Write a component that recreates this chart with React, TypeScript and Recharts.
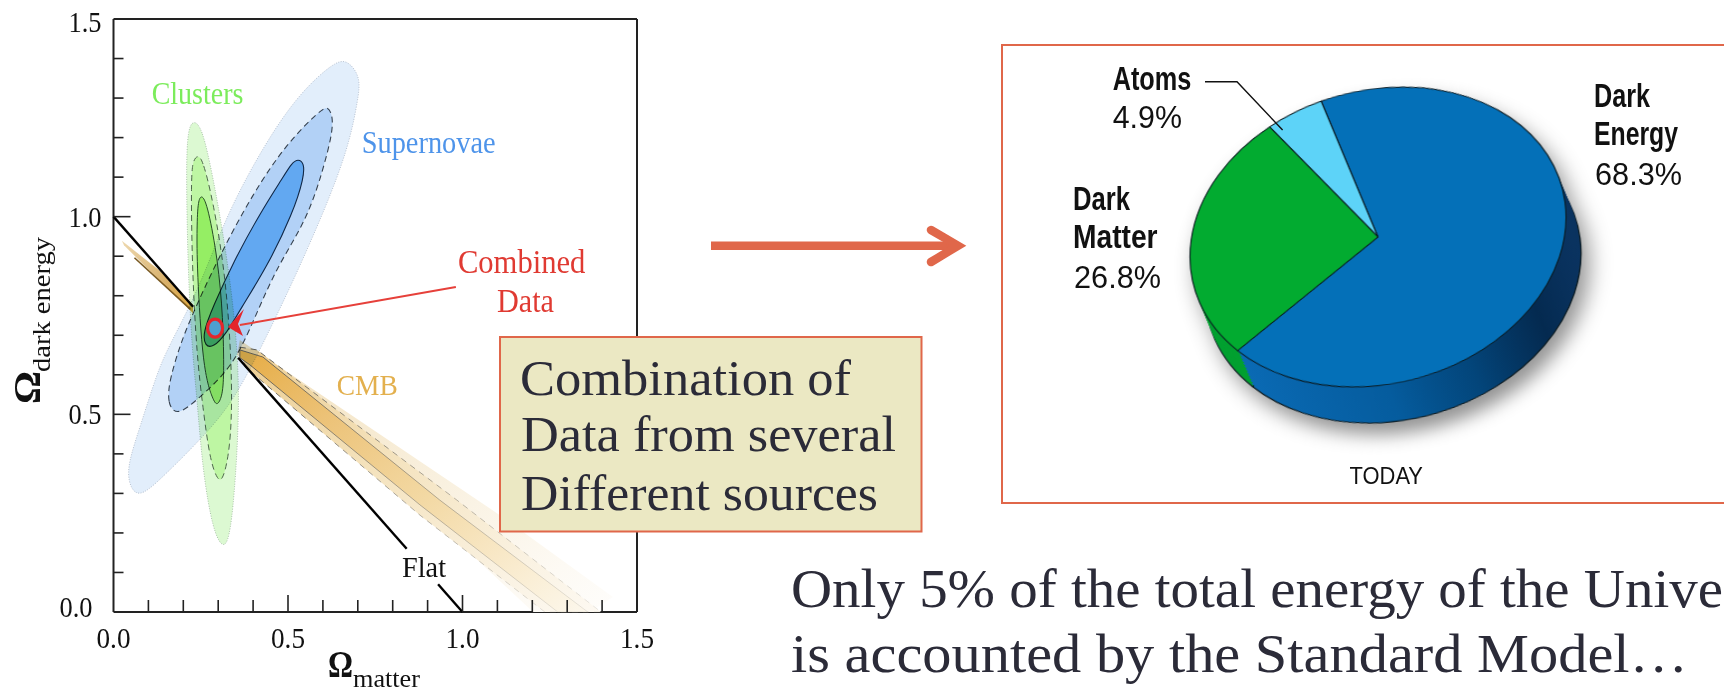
import { ScatterChart, Scatter, XAxis, YAxis, PieChart, Pie, Cell } from 'recharts';

// left plot, contour outlines as [omega matter, omega dark energy]
const snOuter = [[0.07, 0.286], [0.042, 0.326], [0.042, 0.377], [0.076, 0.468], [0.125, 0.605], [0.156, 0.668], [0.248, 0.822], [0.325, 1.009], [0.44, 1.194], [0.534, 1.313], [0.629, 1.389], [0.669, 1.399], [0.709, 1.353], [0.7, 1.295], [0.678, 1.194], [0.629, 1.068], [0.534, 0.873], [0.434, 0.688], [0.342, 0.529], [0.248, 0.435], [0.133, 0.334]];
const snMid = [[0.182, 0.493], [0.153, 0.529], [0.162, 0.592], [0.191, 0.675], [0.219, 0.739], [0.297, 0.89], [0.4, 1.06], [0.497, 1.186], [0.592, 1.269], [0.615, 1.28], [0.629, 1.252], [0.626, 1.207], [0.6, 1.117], [0.554, 0.992], [0.468, 0.873], [0.405, 0.744], [0.342, 0.62], [0.248, 0.544]];
const snInner = [[0.529, 1.146], [0.546, 1.136], [0.546, 1.1], [0.514, 1.009], [0.44, 0.873], [0.362, 0.764], [0.325, 0.706], [0.285, 0.668], [0.262, 0.673], [0.256, 0.706], [0.285, 0.772], [0.342, 0.883], [0.42, 1.009], [0.486, 1.1], [0.511, 1.136]];
const clOuter = [[0.228, 1.245], [0.254, 1.227], [0.285, 1.1], [0.314, 0.958], [0.342, 0.789], [0.36, 0.605], [0.357, 0.435], [0.342, 0.25], [0.328, 0.175], [0.311, 0.164], [0.285, 0.207], [0.256, 0.352], [0.239, 0.544], [0.225, 0.663], [0.213, 0.873], [0.208, 1.126], [0.213, 1.219]];
const clMid = [[0.242, 1.156], [0.256, 1.143], [0.285, 1.042], [0.325, 0.832], [0.342, 0.562], [0.334, 0.41], [0.314, 0.334], [0.299, 0.331], [0.276, 0.385], [0.256, 0.519], [0.239, 0.645], [0.225, 0.873], [0.222, 1.1], [0.228, 1.143]];
const clInner = [[0.254, 1.057], [0.271, 1.024], [0.299, 0.89], [0.314, 0.746], [0.317, 0.594], [0.311, 0.544], [0.297, 0.521], [0.285, 0.536], [0.256, 0.612], [0.239, 0.873], [0.239, 0.974], [0.242, 1.042]];
const cmbOuter = [[0.362, 0.688], [1.107, 0.245], [1.431, 0.038], [1.365, 0], [1.202, 0], [0.878, 0.268], [0.354, 0.65]];
const cmbMid = [[0.362, 0.67], [0.411, 0.663], [0.984, 0.283], [1.397, 0], [1.236, 0], [0.878, 0.245], [0.377, 0.62]];
const cmbInner = [[0.362, 0.663], [0.428, 0.645], [0.935, 0.283], [1.359, 0], [1.273, 0], [0.878, 0.271], [0.391, 0.625], [0.362, 0.643]];
const cmbSliver = [[0.024, 0.939], [0.133, 0.863], [0.228, 0.777], [0.228, 0.756], [0.133, 0.837], [0.03, 0.928]];
const cmbSliverCore = [[0.06, 0.896], [0.22, 0.766]];
const flatUpperA = [[0, 1], [0.228, 0.772]];
const flatUpperB = [[0.357, 0.643], [0.84, 0.16]];
const flatLower = [[0.93, 0.07], [1, 0]];
const combined = [[0.291, 0.718]];
const arrowLine = [[0.981, 0.822], [0.362, 0.726]];

const axisTicks = [0, 0.1, 0.2, 0.3, 0.4, 0.5, 0.6, 0.7, 0.8, 0.9, 1, 1.1, 1.2, 1.3, 1.4, 1.5];
const majorTicks = [0, 0.5, 1, 1.5];

// right plot
const pieNames = ['Dark Energy', 'Atoms', 'Dark Matter'];
const pieValues = [68.3, 4.9, 26.8];
const pieColors = ['#0470b8', '#5dd3f8', '#02ab30'];
const pieSideColors = ['url(#pieSide)', '#5dd3f8', '#02a030'];
const pieData = pieNames.map((name, i) => ({ name, value: pieValues[i] }));
const sideLayers = [1, 0.92, 0.84, 0.76, 0.68, 0.6, 0.52, 0.44, 0.36, 0.28, 0.2, 0.12, 0.04];

const SERIF = '"Liberation Serif", serif';
const SANS = '"Liberation Sans", sans-serif';
const RED = '#e0674a';

const pts = (list: number[][]) => list.map(([x, y]) => ({ x, y }));
const noDot = () => <g />;

function blob(key: string, list: number[][], line: any, joint = 'basisClosed') {
  return (
    <Scatter
      key={key}
      data={pts(list)}
      line={line}
      lineJointType={joint as any}
      shape={noDot}
      isAnimationActive={false}
    />
  );
}

const multiply = { mixBlendMode: 'multiply' as const };

function BottomTick({ x, y, payload }: any) {
  const major = majorTicks.includes(payload.value);
  const edge = payload.value === 0 || payload.value === 1.5;
  return (
    <g>
      {!edge && <line x1={x} x2={x} y1={y} y2={y - (major ? 17 : 12)} stroke="#222" strokeWidth={1.6} />}
      {major && (
        <text x={x - 17} y={y + 36} fontFamily={SERIF} fontSize={29} fill="#111" textLength={34} lengthAdjust="spacingAndGlyphs">
          {payload.value.toFixed(1)}
        </text>
      )}
    </g>
  );
}

function LeftTick({ x, y, payload }: any) {
  const major = majorTicks.includes(payload.value);
  const edge = payload.value === 0 || payload.value === 1.5;
  const low = payload.value === 0;
  return (
    <g>
      {!edge && <line x1={x} x2={x + (major ? 17 : 10)} y1={y} y2={y} stroke="#222" strokeWidth={1.6} />}
      {major && (
        <text x={x - (low ? 54 : 45)} y={y + (low ? 5 : 10) + (payload.value === 1.5 ? 3 : 0)} fontFamily={SERIF} fontSize={29} fill="#111" textLength={33} lengthAdjust="spacingAndGlyphs">
          {payload.value.toFixed(1)}
        </text>
      )}
    </g>
  );
}

function TopTick({ x, y, payload }: any) {
  if (payload.value === 0 || payload.value === 1.5) return <g />;
  const major = majorTicks.includes(payload.value);
  return <line x1={x} x2={x} y1={y} y2={y + (major ? 17 : 12)} stroke="#222" strokeWidth={1.6} />;
}

function RightTick({ x, y, payload }: any) {
  if (payload.value === 0 || payload.value === 1.5) return <g />;
  const major = majorTicks.includes(payload.value);
  return <line x1={x} x2={x - (major ? 17 : 10)} y1={y} y2={y} stroke="#222" strokeWidth={1.6} />;
}

function ConstraintPlot() {
  const axisProps = {
    type: 'number' as const,
    domain: [0, 1.5],
    ticks: axisTicks,
    interval: 0 as const,
    tickLine: false,
    tickSize: 0,
    tickMargin: 0,
    axisLine: { stroke: '#222', strokeWidth: 2 },
  };
  return (
    <div style={{ position: 'absolute', left: 0, top: 0 }}>
      <ScatterChart width={660} height={692} margin={{ left: 112.5, right: 22, top: 18, bottom: 79 }}>
        <defs>
          <linearGradient id="bandOuter" x1="0" y1="0" x2="1" y2="1">
            <stop offset="0%" stopColor="#f2dfb8" />
            <stop offset="45%" stopColor="#f8eeda" />
            <stop offset="85%" stopColor="#fdfaf4" />
            <stop offset="100%" stopColor="#fefdfb" />
          </linearGradient>
          <linearGradient id="bandMid" x1="0" y1="0" x2="1" y2="1">
            <stop offset="0%" stopColor="#ebcc90" />
            <stop offset="40%" stopColor="#f4e2bc" />
            <stop offset="80%" stopColor="#faf2e2" />
            <stop offset="100%" stopColor="#fdf9f2" />
          </linearGradient>
          <linearGradient id="bandInner" x1="0" y1="0" x2="1" y2="1">
            <stop offset="0%" stopColor="#e6ac44" />
            <stop offset="25%" stopColor="#ecc277" />
            <stop offset="55%" stopColor="#f3d9a4" />
            <stop offset="85%" stopColor="#faeed5" />
            <stop offset="100%" stopColor="#fcf7ec" />
          </linearGradient>
          <linearGradient id="bandLine" x1="0" y1="0" x2="1" y2="1">
            <stop offset="0%" stopColor="#55534c" stopOpacity={0.9} />
            <stop offset="50%" stopColor="#77736a" stopOpacity={0.6} />
            <stop offset="100%" stopColor="#99958a" stopOpacity={0.2} />
          </linearGradient>
          <linearGradient id="sliver" x1="0" y1="0" x2="1" y2="1">
            <stop offset="0%" stopColor="#eed9b0" />
            <stop offset="60%" stopColor="#d8b06a" />
            <stop offset="100%" stopColor="#e0a83c" />
          </linearGradient>
        </defs>
        <XAxis {...axisProps} dataKey="x" height={1} tick={<BottomTick />} />
        <XAxis {...axisProps} xAxisId="top" orientation="top" dataKey="x" height={1} tick={<TopTick />} />
        <YAxis {...axisProps} dataKey="y" width={1} tick={<LeftTick />} />
        <YAxis {...axisProps} yAxisId="right" orientation="right" dataKey="y" width={1} tick={<RightTick />} />

        {blob('cmbOuter', cmbOuter, { fill: 'url(#bandOuter)', stroke: 'none' }, 'linearClosed')}
        {blob('cmbMid', cmbMid, { fill: 'url(#bandMid)', stroke: 'url(#bandLine)', strokeDasharray: '6 5', strokeWidth: 1 }, 'linearClosed')}
        {blob('cmbInner', cmbInner, { fill: 'url(#bandInner)', stroke: 'url(#bandLine)', strokeWidth: 1 }, 'linearClosed')}
        {blob('cmbSliver', cmbSliver, { fill: 'url(#sliver)', stroke: 'none' }, 'linearClosed')}
        {blob('cmbSliverCore', cmbSliverCore, { stroke: '#7a5a22', strokeWidth: 1.6 }, 'linear')}
        {blob('flatUpperA', flatUpperA, { stroke: '#000', strokeWidth: 2.4 }, 'linear')}
        {blob('flatUpperB', flatUpperB, { stroke: '#000', strokeWidth: 2.4 }, 'linear')}
        {blob('flatLower', flatLower, { stroke: '#000', strokeWidth: 2.4 }, 'linear')}

        {blob('clOuter', clOuter, { fill: '#dcf9d2', stroke: '#9ab59a', strokeWidth: 0.8, strokeDasharray: '1 1.5', style: multiply })}
        {blob('clMid', clMid, { fill: '#dcfcc6', stroke: '#5a6a5a', strokeWidth: 1, strokeDasharray: '6 4', style: multiply })}
        {blob('clInner', clInner, { fill: '#c8f79c', stroke: '#34503a', strokeWidth: 1, style: multiply })}
        {blob('snOuter', snOuter, { fill: '#e2eefb', stroke: '#a8b4c4', strokeWidth: 0.8, strokeDasharray: '1 1.5', style: multiply })}
        {blob('snMid', snMid, { fill: '#c9e0fa', stroke: '#3c4650', strokeWidth: 1.1, strokeDasharray: '6 4', style: multiply })}
        {blob('snInner', snInner, { fill: '#8ccdfa', stroke: '#16304a', strokeWidth: 1.1, style: multiply })}

        <Scatter
          data={pts(combined)}
          isAnimationActive={false}
          shape={({ cx, cy }: any) => (
            <ellipse cx={cx} cy={cy} rx={7.5} ry={9} fill="#4e9fd0" stroke="#e4262c" strokeWidth={3.2} />
          )}
        />
        {blob('arrowLine', arrowLine, { stroke: '#e6403a', strokeWidth: 2 }, 'linear')}
      </ScatterChart>
    </div>
  );
}

function EnergyPie() {
  return (
    <div
      style={{
        position: 'absolute',
        left: 1377.6 - 150,
        top: 236.7 - 150,
        width: 300,
        height: 300,
        transform: 'matrix(1.88, -0.197, 0, 1.487, 0, 0)',
        transformOrigin: '150px 150px',
        filter: 'drop-shadow(4px 8px 6px rgba(0,0,0,0.42))',
      }}
    >
      <PieChart width={300} height={300} margin={{ left: 0, right: 0, top: 0, bottom: 0 }}>
        <defs>
          <linearGradient id="pieSide" x1="0" y1="0" x2="1" y2="0">
            <stop offset="0%" stopColor="#0a6ab4" />
            <stop offset="45%" stopColor="#055c9e" />
            <stop offset="70%" stopColor="#03457a" />
            <stop offset="90%" stopColor="#042a50" />
            <stop offset="100%" stopColor="#0a3360" />
          </linearGradient>
        </defs>
        {sideLayers.map((t, layer) => (
          <Pie
            key={layer}
            data={pieData}
            dataKey="value"
            cx={150 + 8 * t}
            cy={150 + 25.3 * t}
            outerRadius={100}
            startAngle={-138.3}
            endAngle={221.7}
            stroke={layer === 0 ? '#0b1a20' : 'none'}
            strokeWidth={0.7}
            isAnimationActive={false}
          >
            {pieData.map((d, i) => (
              <Cell key={d.name} fill={pieSideColors[i]} />
            ))}
          </Pie>
        ))}
        <Pie
          data={pieData}
          dataKey="value"
          cx={150}
          cy={150}
          outerRadius={100}
          startAngle={-138.3}
          endAngle={221.7}
          stroke="#0b1a20"
          strokeWidth={0.6}
          isAnimationActive={false}
        >
          {pieData.map((d, i) => (
            <Cell key={d.name} fill={pieColors[i]} />
          ))}
        </Pie>
      </PieChart>
    </div>
  );
}

function Label({ x, y, w, size, fill = '#111', font = SERIF, weight = 400, children, transform }: any) {
  return (
    <text
      x={transform ? 0 : x}
      y={transform ? 0 : y}
      transform={transform}
      fontFamily={font}
      fontSize={size}
      fontWeight={weight}
      fill={fill}
      textLength={w}
      lengthAdjust="spacingAndGlyphs"
    >
      {children}
    </text>
  );
}

export default function App() {
  return (
    <div style={{ position: 'absolute', left: 0, top: 0, width: 1724, height: 692, overflow: 'hidden', background: '#fff' }}>
      <ConstraintPlot />
      <div style={{ position: 'absolute', left: 1001, top: 44, width: 800, height: 460, border: `2px solid ${RED}`, boxSizing: 'border-box' }} />
      <EnergyPie />
      <svg width={1724} height={692} style={{ position: 'absolute', left: 0, top: 0, pointerEvents: 'none' }}>
        {/* arrow head of the Combined Data pointer */}
        <polygon points="228,327 244,309 238,324 243,336" fill="#e4262c" />

        <Label x={151.7} y={104} w={91.7} size={32} fill="#7cec5c">Clusters</Label>
        <Label x={361.7} y={153} w={134} size={32} fill="#4e94ea">Supernovae</Label>
        <Label x={457.9} y={273.3} w={127.5} size={33} fill="#e03a32">Combined</Label>
        <Label x={497} y={311.7} w={57} size={33} fill="#e03a32">Data</Label>
        <Label x={336.7} y={395} w={61} size={30} fill="#e3b04e">CMB</Label>
        <Label x={402} y={577.3} w={44} size={30}>Flat</Label>

        <Label x={328} y={677} w={25} size={38} weight={700}>Ω</Label>
        <Label x={353} y={686.5} w={67} size={25}>matter</Label>
        <Label transform="translate(40,404) rotate(-90)" w={33} size={38} weight={700}>Ω</Label>
        <Label transform="translate(50,372) rotate(-90)" w={135} size={26}>dark energy</Label>

        {/* orange arrow */}
        <line x1={711} y1={245.7} x2={952} y2={245.7} stroke={RED} strokeWidth={8.5} />
        <polyline points="931,230 958,245.7 931,262" fill="none" stroke={RED} strokeWidth={8.5} strokeLinecap="round" />

        {/* text box */}
        <rect x={500} y={337} width={421.5} height={194.5} fill="#ebe8c3" stroke={RED} strokeWidth={2} />
        <Label x={520} y={395} w={331} size={50} fill="#2b2b38">Combination of</Label>
        <Label x={521} y={451} w={375} size={50} fill="#2b2b38">Data from several</Label>
        <Label x={521} y={510} w={357} size={50} fill="#2b2b38">Different sources</Label>

        <Label x={791} y={607} w={932} size={55} fill="#2b2b38">Only 5% of the total energy of the Unive</Label>
        <Label x={791} y={671.7} w={897} size={55} fill="#2b2b38">is accounted by the Standard Model…</Label>

        {/* pie labels */}
        <Label x={1112.7} y={90} w={78.6} size={33} font={SANS} weight={700}>Atoms</Label>
        <Label x={1112.7} y={128.3} w={69.3} size={31} font={SANS}>4.9%</Label>
        <Label x={1594} y={106.7} w={56} size={33} font={SANS} weight={700}>Dark</Label>
        <Label x={1594} y={145} w={84} size={33} font={SANS} weight={700}>Energy</Label>
        <Label x={1595} y={185} w={87} size={31} font={SANS}>68.3%</Label>
        <Label x={1073} y={210} w={57} size={33} font={SANS} weight={700}>Dark</Label>
        <Label x={1073} y={248} w={84.6} size={33} font={SANS} weight={700}>Matter</Label>
        <Label x={1074} y={288} w={87} size={31} font={SANS}>26.8%</Label>
        <Label x={1349.5} y={484} w={73.5} size={24} font={SANS}>TODAY</Label>
        <polyline points="1205,81.7 1237,81.7 1282.6,130" fill="none" stroke="#111" strokeWidth={1.4} />
      </svg>
    </div>
  );
}
